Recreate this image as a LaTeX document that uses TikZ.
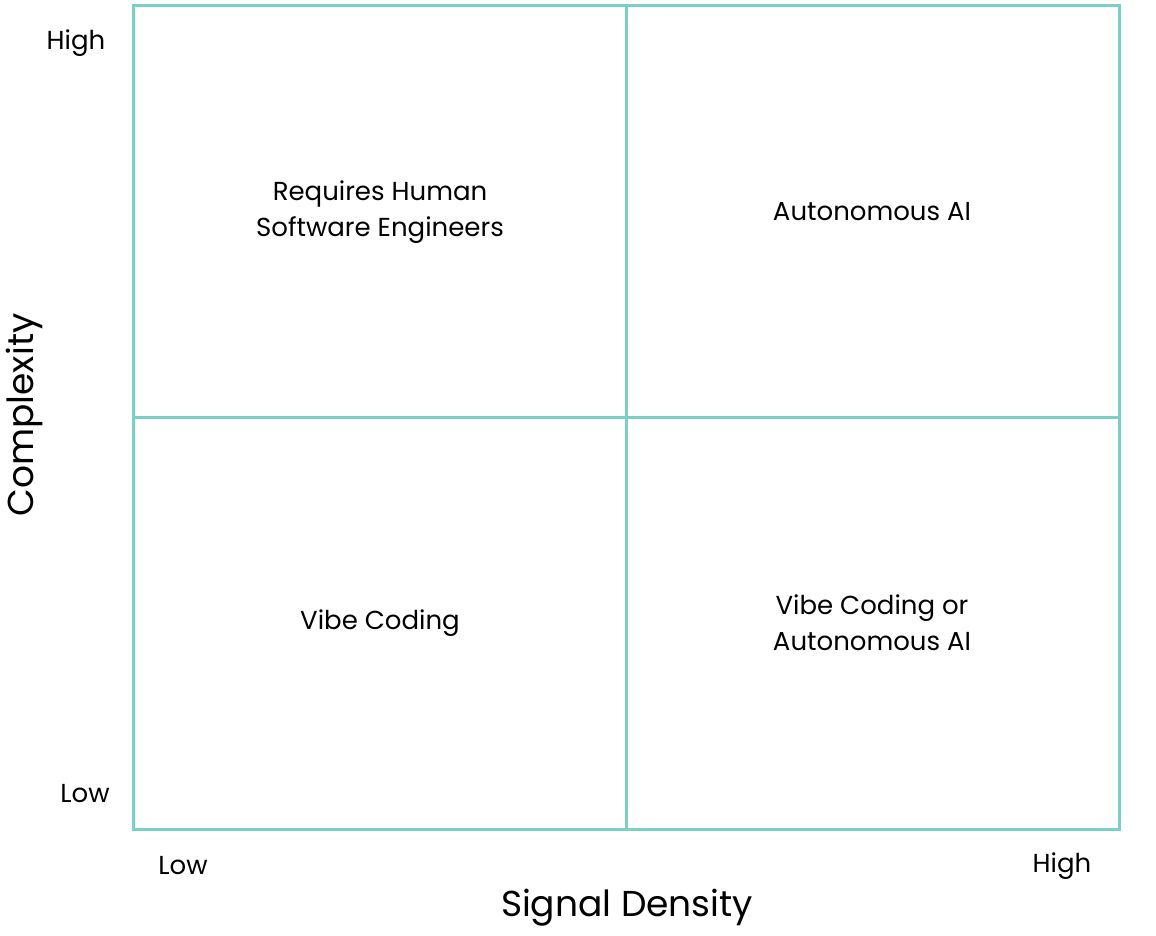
\documentclass[tikz,border=0pt]{standalone}
\usepackage{fontspec}
\setmainfont{Poppins}
\definecolor{teal}{RGB}{122,208,194}
\begin{document}
\begin{tikzpicture}[x=1pt,y=-1pt,
  grid/.style={draw=teal,line width=3pt},
  lab/.style={font=\fontsize{26}{36}\selectfont,align=center,inner sep=0pt},
  axis/.style={font=\fontsize{36}{40}\selectfont,inner sep=0pt}]
\useasboundingbox (0,0) rectangle (1156,936);
\draw[grid] (133,6) rectangle (1119,829);
\draw[grid] (626,6) -- (626,829);
\draw[grid] (133,417) -- (1119,417);
\node[lab] (q1) at (380,212) {Requires Human\\Software Engineers};
\node[lab] (q2) at (872,212) {Autonomous AI};
\node[lab] (q3) at (380,623) {Vibe Coding};
\node[lab] (q4) at (872,623) {Vibe Coding or\\Autonomous AI};
\node[lab] (yh) at (76,43) {High};
\node[lab] (yl) at (85,794) {Low};
\node[lab] (xl) at (183,866) {Low};
\node[lab] (xh) at (1062,866) {High};
\node[axis] (xt) at (627,908) {Signal Density};
\node[axis,rotate=90] (yt) at (24,415) {Complexity};
\end{tikzpicture}
\end{document}
